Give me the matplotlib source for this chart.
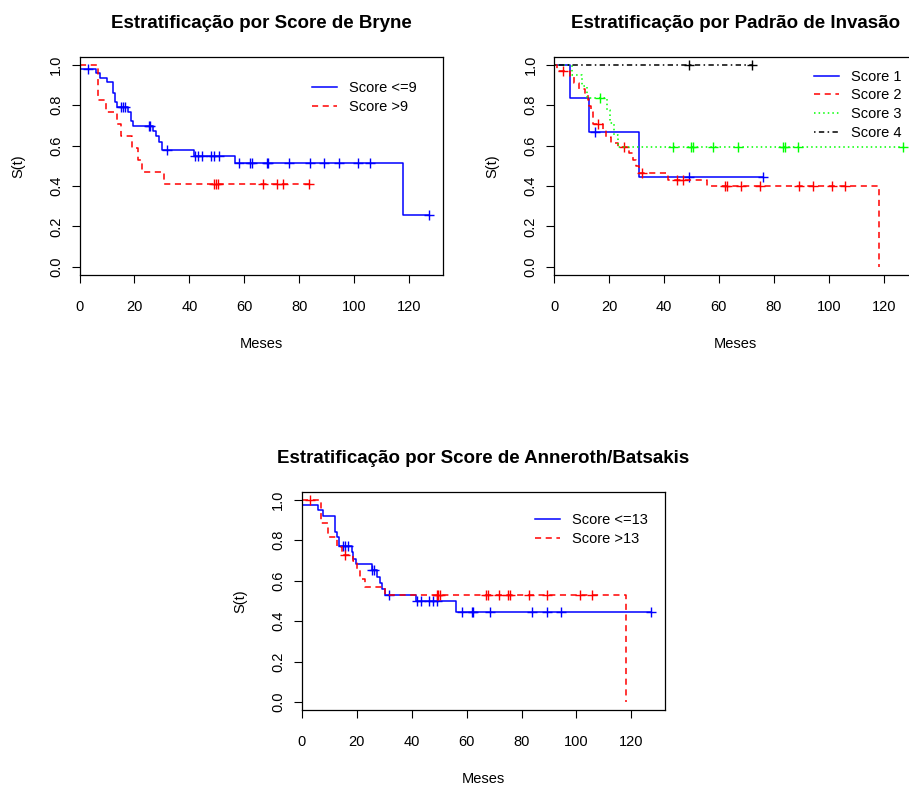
import numpy as np
import matplotlib
matplotlib.use("Agg")
import matplotlib.pyplot as plt

plt.rcParams['font.family'] = ['Liberation Sans', 'DejaVu Sans']

# ---- Bryne score ----
bryne_lo_t = [0, 6.0, 7.5, 9.9, 12.0, 12.9, 13.6, 17.8, 18.8, 19.6, 26.6, 27.8, 28.8, 30.0, 41.8, 56.6, 117.9]
bryne_lo_s = [0.977, 0.958, 0.936, 0.916, 0.859, 0.815, 0.789, 0.765, 0.722, 0.698, 0.672, 0.646, 0.620, 0.576, 0.551, 0.514, 0.257]
bryne_lo_cens = [3.0, 15.0, 15.8, 16.6, 25.2, 25.7, 31.8, 42.0, 43.2, 44.6, 47.9, 49.1, 50.7, 58.2, 62.2, 62.7,
                 68.1, 68.7, 76.3, 84.0, 89.0, 94.3, 101.2, 105.8, 127.3]
bryne_hi_t = [0, 6.8, 9.7, 13.6, 15.2, 19.2, 21.2, 22.8, 30.9]
bryne_hi_s = [1.0, 0.824, 0.765, 0.706, 0.647, 0.588, 0.529, 0.471, 0.412]
bryne_hi_cens = [49.1, 49.7, 50.5, 66.9, 71.7, 74.2, 83.4]

# ---- Padrao de invasao ----
inv1_t = [0, 5.8, 12.8, 30.9]
inv1_s = [1.0, 0.836, 0.666, 0.444]
inv1_cens = [15.0, 49.2, 76.1]
inv2_t = [0, 1.0, 5.8, 7.4, 9.2, 11.4, 12.2, 12.8, 13.6, 14.3, 17.7, 18.9, 20.7, 23.1, 27.4, 28.6, 29.8, 31.0,
          41.6, 55.5, 118.2]
inv2_s = [1.0, 0.971, 0.941, 0.912, 0.882, 0.853, 0.824, 0.794, 0.765, 0.706, 0.676, 0.645, 0.615, 0.595,
          0.562, 0.530, 0.498, 0.467, 0.431, 0.398, 0.0]
inv2_cens = [3.2, 15.9, 25.6, 31.9, 44.6, 47.0, 62.2, 62.8, 67.9, 74.9, 89.1, 94.3, 101.2, 105.8]
inv3_t = [0, 6.6, 10.0, 12.0, 19.2, 20.4, 21.9, 23.1]
inv3_s = [1.0, 0.950, 0.894, 0.837, 0.778, 0.710, 0.652, 0.595]
inv3_cens = [16.8, 43.2, 49.8, 50.7, 57.9, 67.1, 83.4, 84.0, 88.8, 127.0]
inv4_t = [0]
inv4_s = [1.0]
inv4_cens = [49.2, 71.9]

# ---- Anneroth/Batsakis ----
ann_lo_t = [0, 5.8, 7.9, 12.1, 12.7, 13.6, 18.2, 18.8, 19.8, 25.5, 27.3, 28.5, 29.4, 30.3, 41.6, 56.0]
ann_lo_s = [0.976, 0.951, 0.921, 0.842, 0.814, 0.770, 0.740, 0.707, 0.683, 0.652, 0.616, 0.588, 0.559, 0.529,
            0.498, 0.447]
ann_lo_cens = [15.1, 15.8, 17.0, 25.7, 26.4, 31.9, 41.8, 43.3, 46.4, 47.8, 49.4, 58.2, 61.8, 62.4, 68.7,
               84.0, 89.1, 94.2, 127.0]
ann_hi_t = [0, 6.9, 9.7, 12.7, 14.5, 18.8, 20.0, 21.2, 23.0, 30.3, 117.9]
ann_hi_s = [1.0, 0.885, 0.814, 0.768, 0.729, 0.696, 0.653, 0.609, 0.571, 0.529, 0.0]
ann_hi_cens = [3.0, 15.7, 49.1, 49.7, 50.3, 67.0, 67.9, 71.8, 75.1, 75.7, 82.8, 89.1, 101.2, 105.8]

DASH = (0, (4, 3))
DOT = (0, (1, 2))
DASHDOT = (0, (1, 2.2, 3.5, 2.2))


def km(ax, t, s, cens, color, ls, label):
    t = list(t)
    s = list(s)
    end = max(t[-1], max(cens) if cens else 0)
    if s[-1] > 0:
        t = t + [end]
        s = s + [s[-1]]
    ax.step(t, s, where='post', color=color, linestyle=ls, lw=1.1, label=label)
    idx = np.searchsorted(np.array(t), np.array(cens), side='right') - 1
    ax.plot(cens, np.array(s)[idx], linestyle='none', marker='+', color=color,
            markersize=7.5, markeredgewidth=1.0)


def style(ax, title, leg_xy):
    ax.set_xlim(0, 132.1)
    ax.set_ylim(-0.04, 1.04)
    ax.set_xticks(np.arange(0, 121, 20))
    ax.set_yticks(np.arange(0, 1.01, 0.2))
    ax.set_yticklabels(['%.1f' % v for v in np.arange(0, 1.01, 0.2)], rotation=90, va='center')
    ax.tick_params(direction='out', length=5.8, width=0.8, labelsize=10.5)
    ax.tick_params(axis='x', pad=12)
    ax.tick_params(axis='y', pad=6)
    for sp in ax.spines.values():
        sp.set_linewidth(0.9)
    ax.set_title(title, fontsize=13.5, fontweight='bold', pad=21)
    ax.set_xlabel('Meses', fontsize=10.5)
    ax.xaxis.set_label_coords(0.5, -0.285)
    ax.set_ylabel('S(t)', fontsize=10.5)
    ax.yaxis.set_label_coords(-0.15, 0.5)
    ax.legend(loc='upper left', bbox_to_anchor=leg_xy, frameon=False, fontsize=10.5,
              borderpad=0, borderaxespad=0, handlelength=1.7, handletextpad=0.85,
              labelspacing=0.33)


fig = plt.figure(figsize=(9.09, 7.89), dpi=100)
ax1 = fig.add_axes([0.0875, 0.6515, 0.3993, 0.2766])
ax2 = fig.add_axes([0.6095, 0.6515, 0.3993, 0.2766])
ax3 = fig.add_axes([0.3319, 0.1001, 0.3993, 0.2767])

km(ax1, bryne_lo_t, bryne_lo_s, bryne_lo_cens, 'blue', '-', 'Score <=9')
km(ax1, bryne_hi_t, bryne_hi_s, bryne_hi_cens, 'red', DASH, 'Score >9')
style(ax1, 'Estratificação por Score de Bryne', (0.641, 0.887))

km(ax2, inv1_t, inv1_s, inv1_cens, 'blue', '-', 'Score 1')
km(ax2, inv2_t, inv2_s, inv2_cens, 'red', DASH, 'Score 2')
km(ax2, inv3_t, inv3_s, inv3_cens, '#00ff00', DOT, 'Score 3')
km(ax2, inv4_t, inv4_s, inv4_cens, 'black', DASHDOT, 'Score 4')
style(ax2, 'Estratificação por Padrão de Invasão', (0.717, 0.941))

km(ax3, ann_lo_t, ann_lo_s, ann_lo_cens, 'blue', '-', 'Score <=13')
km(ax3, ann_hi_t, ann_hi_s, ann_hi_cens, 'red', DASH, 'Score >13')
style(ax3, 'Estratificação por Score de Anneroth/Batsakis', (0.643, 0.903))

fig.savefig('out.png', dpi=100)
